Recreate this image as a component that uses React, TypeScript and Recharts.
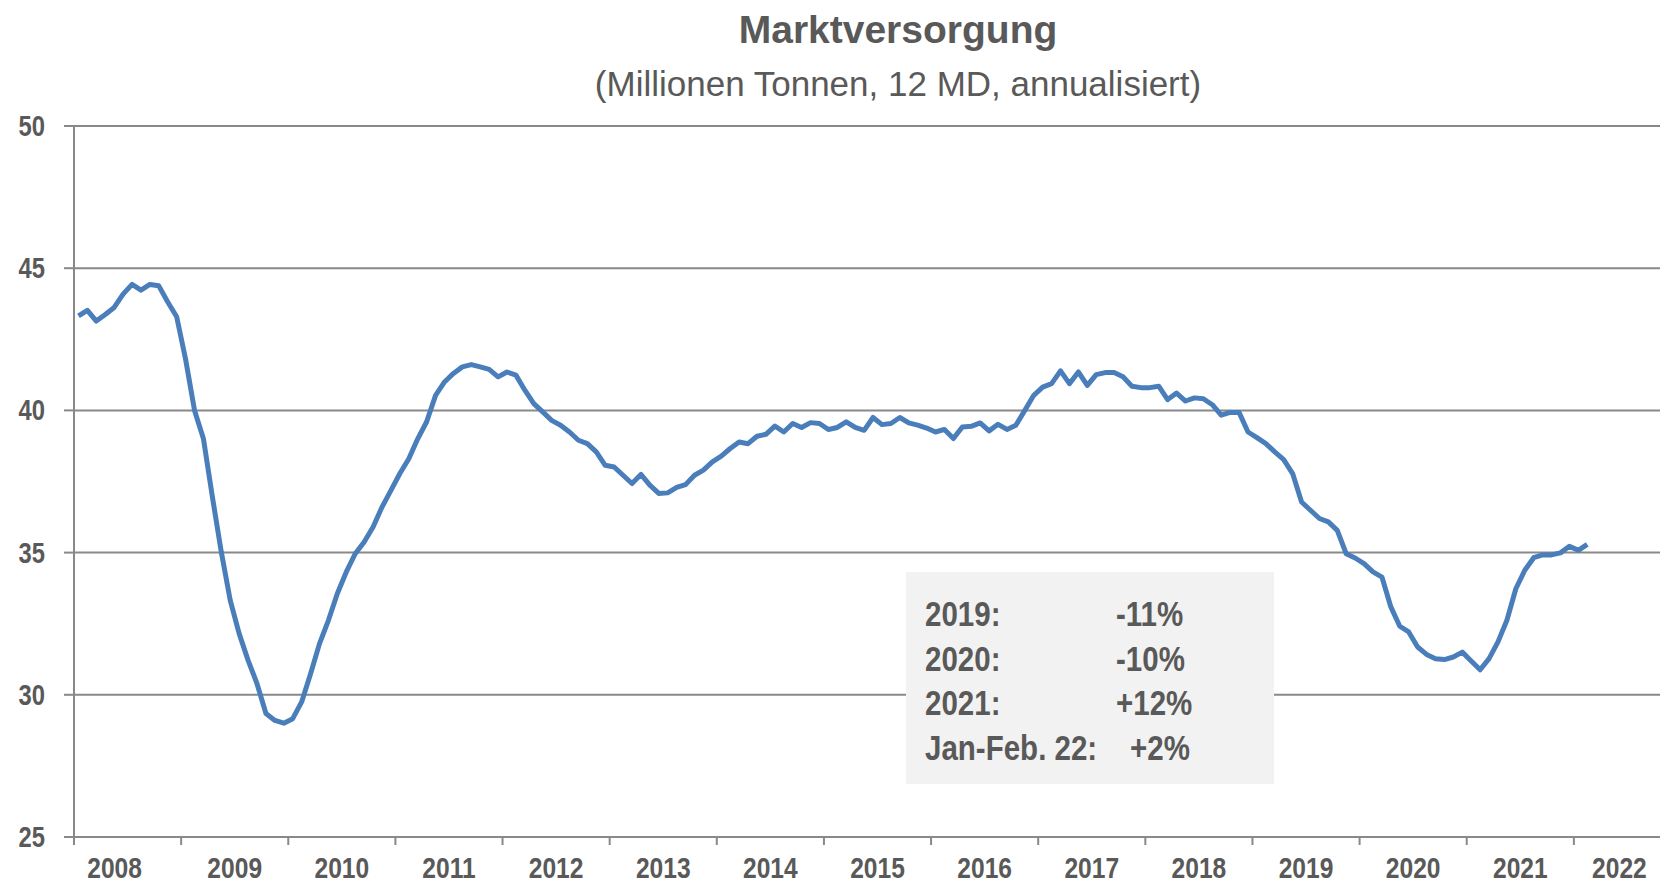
import { LineChart, Line, XAxis, YAxis, CartesianGrid } from 'recharts';

// Marktversorgung, Millionen Tonnen, 12-Monats-Durchschnitt annualisiert (monthly values)
const years = [2008, 2009, 2010, 2011, 2012, 2013, 2014, 2015, 2016, 2017, 2018, 2019, 2020, 2021, 2022];

const s2008 = [43.32, 43.52, 43.14, 43.37, 43.62, 44.09, 44.43, 44.23, 44.43, 44.38, 43.81, 43.29];
const s2009 = [41.8, 40.0, 39.0, 36.96, 35.02, 33.32, 32.15, 31.21, 30.39, 29.34, 29.1, 29.0];
const s2010 = [29.16, 29.75, 30.74, 31.8, 32.62, 33.56, 34.32, 34.96, 35.37, 35.9, 36.6, 37.19];
const s2011 = [37.78, 38.3, 39.0, 39.6, 40.53, 41.0, 41.3, 41.53, 41.61, 41.53, 41.44, 41.18];
const s2012 = [41.35, 41.24, 40.71, 40.24, 39.95, 39.65, 39.48, 39.24, 38.95, 38.83, 38.54, 38.07];
const s2013 = [38.01, 37.72, 37.43, 37.75, 37.37, 37.08, 37.1, 37.29, 37.39, 37.72, 37.9, 38.19];
const s2014 = [38.39, 38.66, 38.89, 38.83, 39.09, 39.16, 39.45, 39.24, 39.54, 39.4, 39.57, 39.54];
const s2015 = [39.33, 39.4, 39.6, 39.4, 39.3, 39.75, 39.5, 39.54, 39.75, 39.56, 39.48, 39.38];
const s2016 = [39.24, 39.33, 39.01, 39.42, 39.44, 39.56, 39.28, 39.51, 39.33, 39.48, 40.0, 40.53];
const s2017 = [40.82, 40.94, 41.39, 40.94, 41.35, 40.88, 41.26, 41.33, 41.33, 41.18, 40.85, 40.8];
const s2018 = [40.8, 40.85, 40.38, 40.61, 40.33, 40.44, 40.41, 40.2, 39.83, 39.93, 39.93, 39.24];
const s2019 = [39.04, 38.83, 38.54, 38.27, 37.78, 36.78, 36.49, 36.2, 36.08, 35.78, 34.96, 34.81];
const s2020 = [34.61, 34.32, 34.14, 33.09, 32.41, 32.21, 31.68, 31.42, 31.27, 31.24, 31.33, 31.5];
const s2021 = [31.19, 30.88, 31.27, 31.86, 32.62, 33.73, 34.38, 34.82, 34.92, 34.92, 34.99, 35.22];
const s2022 = [35.08, 35.29];

const byYear = [s2008, s2009, s2010, s2011, s2012, s2013, s2014, s2015, s2016, s2017, s2018, s2019, s2020, s2021, s2022];

const yTicks = [25, 30, 35, 40, 45, 50];

const notes = [
  { label: '2019:', value: '-11%' },
  { label: '2020:', value: '-10%' },
  { label: '2021:', value: '+12%' },
  { label: 'Jan-Feb. 22:', value: '+2%' },
];

// month sits in the middle of its slot inside the year
const chartData = years.flatMap((yr, i) =>
  byYear[i].map((v, m) => ({ t: yr + (m + 0.5) / 12, value: v }))
);

// year boundaries get a tick mark, year middles get the label
const xTicks = [...years.flatMap((yr) => [yr, yr + 0.5]), 2023];
const labelShift: Record<number, number> = { 2008: -13, 2022: -8 };

const GREY = '#898989';
const TEXT = '#595959';
const ARIAL = "'Liberation Sans', Arial, sans-serif";
const SQUEEZE = 0.82; // no Arial Narrow installed, so squeeze Arial bold

// bold condensed text, anchored at (x, y)
const Narrow = ({ x, y, size, anchor = 'start', children }: any) => (
  <text
    transform={`translate(${x} ${y}) scale(${SQUEEZE} 1)`}
    textAnchor={anchor}
    fill={TEXT}
    fontSize={size}
    fontWeight="bold"
    fontFamily={ARIAL}
  >
    {children}
  </text>
);

const YearTick = (props: any) => {
  const { x, y, payload } = props;
  const v = payload.value;
  if (Number.isInteger(v)) {
    return <line x1={x} x2={x} y1={y} y2={y + 8} stroke={GREY} strokeWidth={2} />;
  }
  const yr = Math.floor(v);
  return (
    <Narrow x={x + (labelShift[yr] || 0)} y={y + 41} size={30} anchor="middle">
      {yr}
    </Narrow>
  );
};

const ValueTick = (props: any) => {
  const { x, y, payload } = props;
  return (
    <Narrow x={x} y={y + 10} size={29} anchor="end">
      {payload.value}
    </Narrow>
  );
};

const App = () => {
  return (
    <div
      style={{
        position: 'absolute',
        left: 0,
        top: 0,
        width: 1660,
        height: 885,
        overflow: 'hidden',
        background: '#fff',
      }}
    >
      <LineChart width={1700} height={885} data={chartData} margin={{ top: 126, right: 19, left: 0, bottom: 0 }}>
        <CartesianGrid vertical={false} stroke={GREY} strokeWidth={2} />
        <XAxis
          dataKey="t"
          type="number"
          domain={[2008, 2023]}
          ticks={xTicks}
          interval={0}
          height={48}
          tickSize={0}
          tickMargin={0}
          tickLine={false}
          axisLine={{ stroke: GREY, strokeWidth: 2 }}
          tick={<YearTick />}
        />
        <YAxis
          domain={[25, 50]}
          ticks={yTicks}
          width={74}
          tickSize={10}
          tickMargin={19}
          interval={0}
          axisLine={{ stroke: GREY, strokeWidth: 2 }}
          tickLine={{ stroke: GREY, strokeWidth: 2 }}
          tick={<ValueTick />}
        />
        <Line
          type="linear"
          dataKey="value"
          stroke="#4a7ebb"
          strokeWidth={5}
          strokeLinejoin="round"
          dot={false}
          isAnimationActive={false}
        />
      </LineChart>

      <svg
        width={1660}
        height={885}
        style={{ position: 'absolute', left: 0, top: 0, pointerEvents: 'none' }}
      >
        <text x={898} y={43} textAnchor="middle" fill={TEXT} fontSize={39} fontWeight="bold" fontFamily={ARIAL}>
          Marktversorgung
        </text>
        <text x={898} y={96} textAnchor="middle" fill={TEXT} fontSize={35} fontFamily={ARIAL}>
          (Millionen Tonnen, 12 MD, annualisiert)
        </text>

        <rect x={906} y={572} width={368} height={212} fill="#f2f2f2" />
        {notes.map((n, i) => (
          <g key={n.label}>
            <Narrow x={925} y={626 + i * 44.5} size={36}>{n.label}</Narrow>
            <Narrow x={n.value === '+2%' ? 1130 : 1116} y={626 + i * 44.5} size={36}>{n.value}</Narrow>
          </g>
        ))}
      </svg>
    </div>
  );
};

export default App;
